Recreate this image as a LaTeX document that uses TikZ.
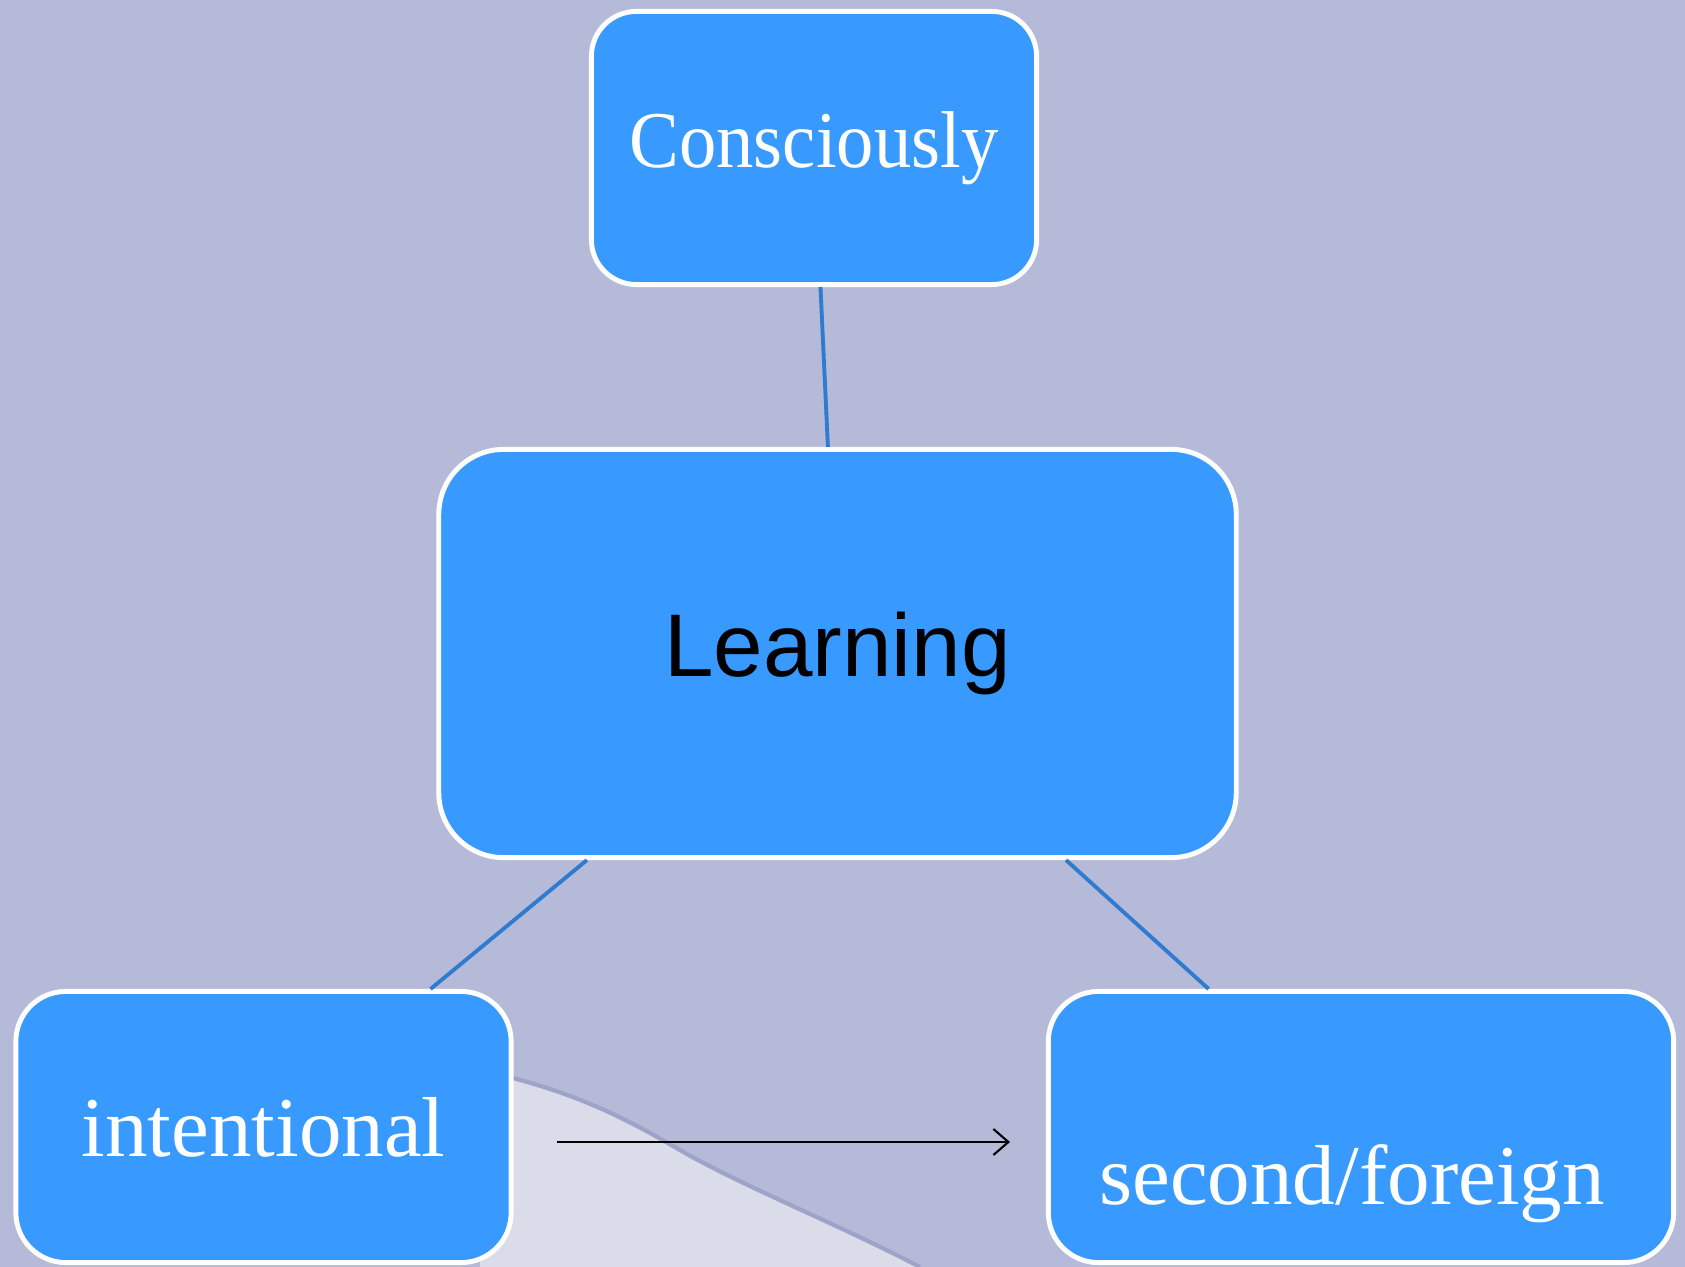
\documentclass[tikz,border=0pt]{standalone}
\usepackage{fontspec}
\setmainfont{Liberation Serif}
\newfontfamily\learnfont{Liberation Sans}
\usetikzlibrary{arrows.meta}
\definecolor{backlav}{RGB}{182,186,217}
\definecolor{wavelight}{RGB}{218,220,234}
\definecolor{waveedge}{RGB}{160,163,200}
\definecolor{boxblue}{RGB}{56,153,255}
\definecolor{linkblue}{RGB}{46,123,207}
\begin{document}
\begin{tikzpicture}[x=0.01cm, y=0.01cm,
    box/.style={draw=white, line width=1.4pt, fill=boxblue, rectangle, inner sep=0pt},
    link/.style={draw=linkblue, line width=1.1pt}]
    % background
    \fill [backlav] (0,0) rectangle (1685,-1267);
    \useasboundingbox (0,0) rectangle (1685,-1267);
    \fill [wavelight] (480,-1070) .. controls (570,-1090) and (620,-1115) .. (680,-1150)
        .. controls (740,-1185) and (840,-1225) .. (920,-1267) -- (480,-1267) -- cycle;
    \draw [waveedge, line width=1.2pt] (480,-1070) .. controls (570,-1090) and (620,-1115) .. (680,-1150)
        .. controls (740,-1185) and (840,-1225) .. (920,-1267);
    % boxes
    \node [box, rounded corners=0.45cm, minimum width=4.45cm, minimum height=2.73cm,
        text=white, font=\fontsize{21.2}{25}\selectfont] (cons) at (814,-148)
        {\scalebox{1}[1.08]{Consciously}\hspace{0.18cm}};
    \node [box, rounded corners=0.65cm, minimum width=7.97cm, minimum height=4.08cm,
        text=black, font=\learnfont\fontsize{25.3}{30}\selectfont] (learn) at (837.5,-653.5) {Learning};
    \node [box, rounded corners=0.5cm, minimum width=4.95cm, minimum height=2.71cm,
        text=white, font=\fontsize{24.2}{29}\selectfont] (inten) at (263.5,-1127) {intentional};
    \node [box, rounded corners=0.5cm, minimum width=6.25cm, minimum height=2.71cm] (second) at (1361,-1127) {};
    \node [anchor=base, text=white, inner sep=0pt, font=\fontsize{24.2}{29}\selectfont]
        (secondtext) at (1352,-1204) {second/foreign};
    % links
    \draw [link] (cons) -- (learn);
    \draw [link] (learn) -- (inten);
    \draw [link] (learn) -- (second);
    % arrow
    \coordinate (arrfrom) at (557,-1142);
    \coordinate (arrto) at (1010,-1142);
    \draw [black, line width=0.6pt, -{Straight Barb[length=0.15cm, width=0.26cm]}] (arrfrom) -- (arrto);
\end{tikzpicture}
\end{document}
